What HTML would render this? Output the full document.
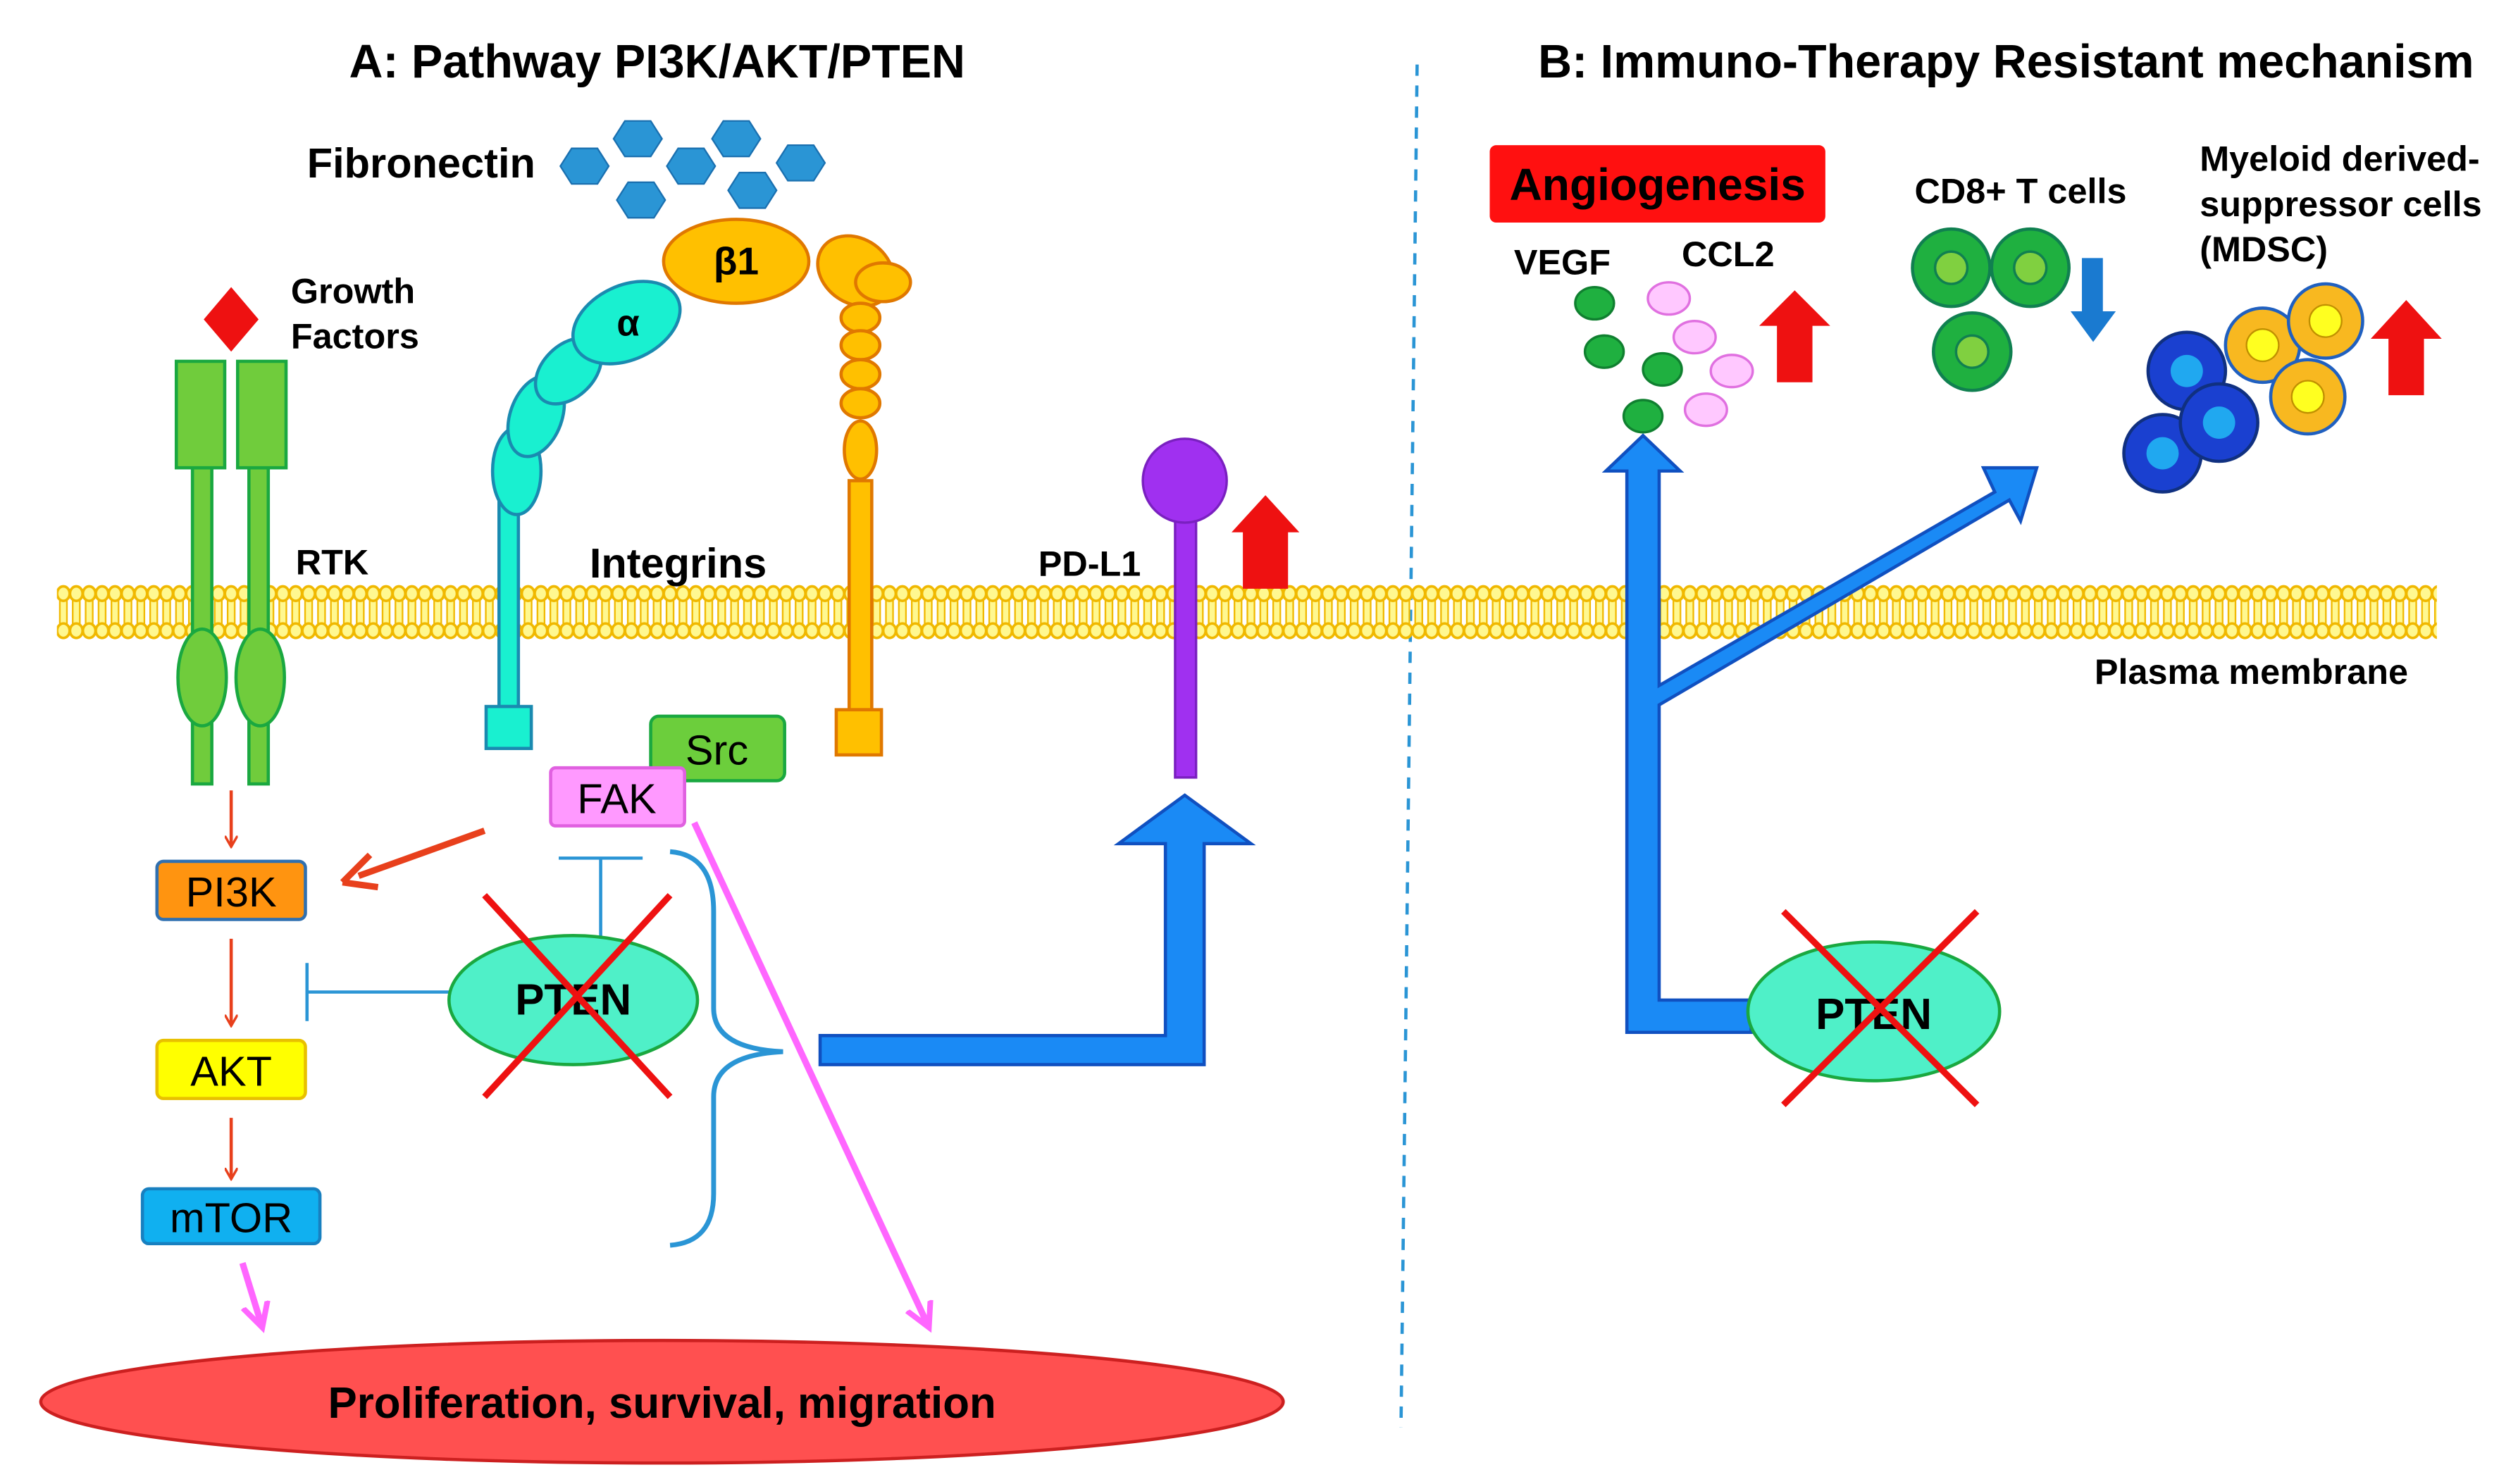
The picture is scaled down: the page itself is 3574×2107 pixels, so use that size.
<!DOCTYPE html>
<html><head><meta charset="utf-8"><style>
html,body{margin:0;padding:0;background:#fff}
svg{display:block}
text{font-family:"Liberation Sans",Arial,sans-serif}
</style></head><body>
<svg width="3574" height="2107" viewBox="0 0 1560 920" xmlns="http://www.w3.org/2000/svg">
<defs>
<pattern id="lip" x="35" y="0" width="8" height="920" patternUnits="userSpaceOnUse">
<rect x="1.8" y="368" width="4.4" height="24" fill="#fff890" stroke="#f0b800" stroke-width="1"/>
<ellipse cx="4" cy="368" rx="3.9" ry="4.5" fill="#fff890" stroke="#f0b800" stroke-width="1.6"/>
<ellipse cx="4" cy="391" rx="3.9" ry="4.5" fill="#fff890" stroke="#f0b800" stroke-width="1.6"/>
</pattern>
<marker id="ar" markerWidth="8" markerHeight="8" refX="6" refY="4" orient="auto" markerUnits="userSpaceOnUse"><path d="M0,0 L7,4 L0,8" fill="none" stroke="#e8401c" stroke-width="1.5"/></marker>
<marker id="arp" markerWidth="20" markerHeight="20" refX="14" refY="10" orient="auto" markerUnits="userSpaceOnUse"><path d="M0,2 L15,10 L0,18" fill="none" stroke="#ff66ff" stroke-width="3.5"/></marker>
<polygon id="hex" points="-8,-11 8,-11 15,0 8,11 -8,11 -15,0" fill="#2a95d5" stroke="#1a70b0" stroke-width="1"/>
</defs>
<text x="407" y="48" font-size="29" font-weight="bold" text-anchor="middle">A: Pathway PI3K/AKT/PTEN</text>
<text x="1243" y="48" font-size="29" font-weight="bold" text-anchor="middle">B: Immuno-Therapy Resistant mechanism</text>
<line x1="878" y1="40" x2="868" y2="885" stroke="#2a95d5" stroke-width="2" stroke-dasharray="7,6"/>
<rect x="35" y="362" width="1475" height="36" fill="url(#lip)"/>
<text x="190" y="110" font-size="26" font-weight="bold">Fibronectin</text>
<use href="#hex" x="362" y="103"/><use href="#hex" x="395" y="86"/><use href="#hex" x="428" y="103"/><use href="#hex" x="456" y="86"/><use href="#hex" x="496" y="101"/><use href="#hex" x="397" y="124"/><use href="#hex" x="466" y="118"/>
<polygon points="143,178 160,198 143,218 126,198" fill="#ee1111"/>
<text x="180" y="188" font-size="22" font-weight="bold">Growth</text>
<text x="180" y="216" font-size="22" font-weight="bold">Factors</text>
<g fill="#70cc3c" stroke="#1aa840" stroke-width="2">
<rect x="119" y="290" width="12" height="196"/><rect x="154" y="290" width="12" height="196"/>
<rect x="109" y="224" width="30" height="66"/><rect x="147" y="224" width="30" height="66"/>
<ellipse cx="125" cy="420" rx="15" ry="30"/><ellipse cx="161" cy="420" rx="15" ry="30"/></g>
<text x="183" y="356" font-size="22" font-weight="bold">RTK</text>
<g fill="#19f0d0" stroke="#1a8ab0" stroke-width="2">
<rect x="309" y="305" width="12" height="133"/><rect x="301" y="438" width="28" height="26"/>
<ellipse cx="320" cy="292" rx="15" ry="27"/><ellipse cx="332" cy="258" rx="16" ry="26" transform="rotate(20 332 258)"/>
<ellipse cx="352" cy="230" rx="16" ry="24" transform="rotate(45 352 230)"/>
<ellipse cx="388" cy="200" rx="35" ry="23" transform="rotate(-25 388 200)"/></g>
<text x="389" y="208" font-size="23" font-weight="bold" text-anchor="middle">α</text>
<g fill="#ffc000" stroke="#e07800" stroke-width="2">
<ellipse cx="530" cy="168" rx="25" ry="20" transform="rotate(35 530 168)"/>
<ellipse cx="547" cy="175" rx="17" ry="12"/>
<ellipse cx="533" cy="197" rx="12" ry="9"/><ellipse cx="533" cy="214" rx="12" ry="9"/><ellipse cx="533" cy="232" rx="12" ry="9"/><ellipse cx="533" cy="250" rx="12" ry="9"/>
<ellipse cx="533" cy="279" rx="10" ry="18"/>
<rect x="526" y="298" width="14" height="142"/><rect x="518" y="440" width="28" height="28"/>
<ellipse cx="456" cy="162" rx="45" ry="26"/></g>
<text x="456" y="170" font-size="24" font-weight="bold" text-anchor="middle">β1</text>
<text x="420" y="358" font-size="26" font-weight="bold" text-anchor="middle">Integrins</text>
<text x="675" y="357" font-size="22" font-weight="bold" text-anchor="middle">PD-L1</text>
<rect x="728" y="320" width="13" height="162" fill="#a030f0" stroke="#7a20c0" stroke-width="1.5"/>
<circle cx="734" cy="298" r="26" fill="#a030f0" stroke="#7a20c0" stroke-width="1.5"/>
<polygon points="770,340 770,330 763,330 784,307 805,330 798,330 798,365 770,365" fill="#ee1111"/>
<text x="1395" y="424" font-size="22" font-weight="bold" text-anchor="middle">Plasma membrane</text>
<rect x="403" y="444" width="83" height="40" rx="5" fill="#6cce3c" stroke="#1aa840" stroke-width="2"/>
<text x="444" y="474" font-size="26" text-anchor="middle">Src</text>
<rect x="341" y="476" width="83" height="36" rx="3" fill="#ff99ff" stroke="#e060e0" stroke-width="2"/>
<text x="382" y="504" font-size="26" text-anchor="middle">FAK</text>
<rect x="97" y="534" width="92" height="36" rx="4" fill="#ff9410" stroke="#3070b0" stroke-width="2"/>
<text x="143" y="562" font-size="26" text-anchor="middle">PI3K</text>
<rect x="97" y="645" width="92" height="36" rx="4" fill="#ffff00" stroke="#e8c000" stroke-width="2"/>
<text x="143" y="673" font-size="26" text-anchor="middle">AKT</text>
<rect x="88" y="737" width="110" height="34" rx="4" fill="#10b0f0" stroke="#1880c0" stroke-width="2"/>
<text x="143" y="764" font-size="26" text-anchor="middle">mTOR</text>
<g stroke="#e8401c" stroke-width="2" marker-end="url(#ar)">
<line x1="143" y1="490" x2="143" y2="524"/><line x1="143" y1="582" x2="143" y2="635"/><line x1="143" y1="693" x2="143" y2="730"/></g>
<line x1="300" y1="515" x2="222" y2="543" stroke="#e8401c" stroke-width="4"/>
<path d="M212,547 L229,530 M212,547 L234,550" stroke="#e8401c" stroke-width="4" fill="none"/>
<line x1="150" y1="783" x2="162" y2="822" stroke="#ff66ff" stroke-width="4" marker-end="url(#arp)"/>
<line x1="430" y1="510" x2="575" y2="822" stroke="#ff66ff" stroke-width="4" marker-end="url(#arp)"/>
<g stroke="#2a95d5" stroke-width="2" fill="none">
<line x1="372" y1="582" x2="372" y2="532"/><line x1="346" y1="532" x2="398" y2="532"/>
<line x1="278" y1="615" x2="190" y2="615"/><line x1="190" y1="597" x2="190" y2="633"/>
<path d="M415,528 Q442,530 442,565 L442,625 Q442,650 485,652 Q442,654 442,680 L442,740 Q442,770 415,772" stroke-width="3"/></g>
<ellipse cx="355" cy="620" rx="77" ry="40" fill="#4ff0c8" stroke="#1aa840" stroke-width="2"/>
<text x="355" y="629" font-size="27" font-weight="bold" text-anchor="middle">PTEN</text>
<g stroke="#ee1111" stroke-width="4"><line x1="300" y1="555" x2="415" y2="680"/><line x1="415" y1="555" x2="300" y2="680"/></g>
<polygon points="508,642 722,642 722,523 693,523 734,493 775,523 746,523 746,660 508,660" fill="#1a8af5" stroke="#1050c0" stroke-width="2"/>
<ellipse cx="410" cy="869" rx="385" ry="38" fill="#ff5050" stroke="#cc2020" stroke-width="2"/>
<text x="410" y="879" font-size="27" font-weight="bold" text-anchor="middle">Proliferation, survival, migration</text>
<rect x="923" y="90" width="208" height="48" rx="4" fill="#ff1010"/>
<text x="1027" y="124" font-size="28" font-weight="bold" text-anchor="middle">Angiogenesis</text>
<text x="938" y="170" font-size="22" font-weight="bold">VEGF</text>
<text x="1042" y="165" font-size="22" font-weight="bold">CCL2</text>
<g fill="#1fb040" stroke="#108030" stroke-width="1.5">
<ellipse cx="988" cy="188" rx="12" ry="10"/><ellipse cx="994" cy="218" rx="12" ry="10"/><ellipse cx="1030" cy="229" rx="12" ry="10"/><ellipse cx="1018" cy="258" rx="12" ry="10"/></g>
<g fill="#ffc8ff" stroke="#e070e0" stroke-width="1.5">
<ellipse cx="1034" cy="185" rx="13" ry="10"/><ellipse cx="1050" cy="209" rx="13" ry="10"/><ellipse cx="1073" cy="230" rx="13" ry="10"/><ellipse cx="1057" cy="254" rx="13" ry="10"/></g>
<polygon points="1101,237 1101,202 1090,202 1112,180 1134,202 1123,202 1123,237" fill="#ee1111"/>
<text x="1252" y="126" font-size="22" font-weight="bold" text-anchor="middle">CD8+ T cells</text>
<g fill="#1fb040" stroke="#108050" stroke-width="2">
<circle cx="1209" cy="166" r="24"/><circle cx="1258" cy="166" r="24"/><circle cx="1222" cy="218" r="24"/></g>
<g fill="#80d040" stroke="#108050" stroke-width="1.5"><circle cx="1209" cy="166" r="10"/><circle cx="1258" cy="166" r="10"/><circle cx="1222" cy="218" r="10"/></g>
<polygon points="1290,160 1303,160 1303,193 1311,193 1297,212 1283,193 1290,193" fill="#1a7ad0"/>
<text x="1363" y="106" font-size="22" font-weight="bold">Myeloid derived-</text>
<text x="1363" y="134" font-size="22" font-weight="bold">suppressor cells</text>
<text x="1363" y="162" font-size="22" font-weight="bold">(MDSC)</text>
<g stroke="#103080" stroke-width="2" fill="#1a40d0">
<circle cx="1355" cy="230" r="24"/><circle cx="1340" cy="281" r="24"/><circle cx="1375" cy="262" r="24"/></g>
<g fill="#20a8f0"><circle cx="1355" cy="230" r="10"/><circle cx="1340" cy="281" r="10"/><circle cx="1375" cy="262" r="10"/></g>
<g stroke="#2060c0" stroke-width="2" fill="#f8b820">
<circle cx="1402" cy="214" r="23"/><circle cx="1441" cy="199" r="23"/><circle cx="1430" cy="246" r="23"/></g>
<g fill="#ffff20" stroke="#c09000"><circle cx="1402" cy="214" r="10"/><circle cx="1441" cy="199" r="10"/><circle cx="1430" cy="246" r="10"/></g>
<polygon points="1480,245 1480,210 1469,210 1491,186 1513,210 1502,210 1502,245" fill="#ee1111"/>
<polygon points="1008,640 1008,292 995,292 1018,270 1041,292 1028,292 1028,425 1236,305 1229,290 1262,290 1252,323 1245,310 1028,437 1028,620 1085,620 1085,640" fill="#1a8af5" stroke="#1050c0" stroke-width="2"/>
<ellipse cx="1161" cy="627" rx="78" ry="43" fill="#4ff0c8" stroke="#1aa840" stroke-width="2"/>
<text x="1161" y="638" font-size="27" font-weight="bold" text-anchor="middle">PTEN</text>
<g stroke="#ee1111" stroke-width="4"><line x1="1105" y1="565" x2="1225" y2="685"/><line x1="1225" y1="565" x2="1105" y2="685"/></g>
</svg>
</body></html>
